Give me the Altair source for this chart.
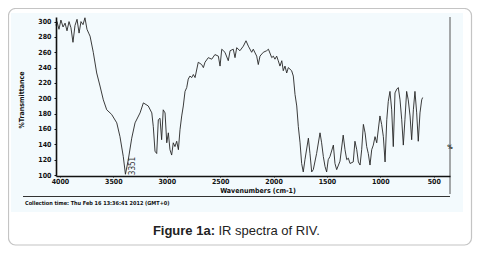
import altair as alt
import pandas as pd

wavenumber = [4037, 4028, 4009, 3991, 3971, 3952, 3934, 3915, 3897, 3878,
              3859, 3840, 3821, 3803, 3784, 3766, 3747, 3728, 3718, 3688,
              3656, 3625, 3594, 3562, 3516, 3468, 3438, 3407, 3387, 3360,
              3328, 3297, 3250, 3219, 3173, 3140, 3126, 3110, 3094, 3079,
              3063, 3048, 3033, 3016, 3000, 2985, 2970, 2954, 2939, 2923,
              2907, 2891, 2876, 2860, 2845, 2829, 2813, 2799, 2783, 2766,
              2751, 2735, 2705, 2673, 2657, 2642, 2611, 2579, 2549, 2517,
              2501, 2485, 2455, 2424, 2407, 2377, 2361, 2345, 2315, 2283,
              2258, 2236, 2205, 2190, 2158, 2143, 2127, 2096, 2065, 2048,
              2017, 2002, 1987, 1971, 1956, 1940, 1923, 1909, 1893, 1877,
              1862, 1831, 1815, 1799, 1783, 1768, 1752, 1737, 1722, 1706,
              1674, 1659, 1643, 1628, 1597, 1565, 1550, 1534, 1518, 1503,
              1488, 1472, 1440, 1425, 1409, 1378, 1348, 1331, 1315, 1300,
              1284, 1254, 1238, 1221, 1206, 1190, 1175, 1159, 1143, 1128,
              1113, 1097, 1081, 1066, 1050, 1034, 1004, 988, 972, 956,
              940, 926, 910, 894, 879, 863, 846, 832, 816, 800,
              785, 770, 754, 739, 722, 707, 691, 676, 660, 645,
              629, 613, 604]

transmittance = [295, 300, 290, 302, 293, 298, 288, 300, 292, 273,
                 295, 303, 285, 300, 296, 305, 290, 284, 281, 260,
                 233, 216, 198, 185, 179, 168, 150, 124, 101, 120,
                 148, 168, 181, 194, 190, 181, 163, 131, 128, 172,
                 174, 146, 185, 181, 142, 155, 133, 126, 142, 137,
                 144, 133, 159, 177, 190, 209, 214, 225, 229, 227,
                 231, 227, 247, 244, 240, 247, 253, 251, 257, 255,
                 242, 264, 260, 249, 262, 264, 253, 266, 262, 268,
                 275, 268, 260, 264, 255, 244, 255, 260, 262, 264,
                 253, 255, 251, 255, 249, 242, 249, 236, 242, 233,
                 240, 236, 229, 205, 190, 163, 142, 115, 104, 120,
                 148, 128, 104, 107, 128, 155, 142, 124, 111, 104,
                 120, 124, 139, 115, 107, 118, 152, 133, 120, 122,
                 115, 117, 144, 133, 117, 113, 133, 166, 155, 137,
                 128, 113, 133, 139, 150, 142, 177, 166, 150, 117,
                 172, 196, 209, 185, 137, 207, 212, 214, 198, 172,
                 139, 172, 209, 198, 177, 146, 185, 209, 181, 144,
                 181, 198, 201]

x_ticks = [4000, 3500, 3000, 2500, 2000, 1500, 1000, 500]
y_ticks = [100, 120, 140, 160, 180, 200, 220, 240, 260, 280, 300]
x_domain = [4037, 348]
y_domain = [98.7, 306]

peak_label = "3351"
x_title = "Wavenumbers (cm-1)"
y_title = "%Transmittance"
footer = "Collection time: Thu Feb 16 13:36:41 2012 (GMT+0)"
caption_bold = "Figure 1a:"
caption_text = "IR spectra of RIV."

W, H = 394, 159
df = pd.DataFrame({"wn": wavenumber, "t": transmittance})
one = pd.DataFrame({"k": [0]})

frame = alt.Chart(one).mark_rect(
    fill="white", stroke="#c4c4c4", strokeWidth=1.2, cornerRadius=7
).encode(x=alt.value(-47.5), x2=alt.value(415.5), y=alt.value(-8.5), y2=alt.value(228))

scan = alt.Chart(one).mark_rect(fill="#f3fafd").encode(
    x=alt.value(-45), x2=alt.value(407), y=alt.value(-4), y2=alt.value(195)
)

label_font = "DejaVu Sans Condensed, Liberation Sans, sans-serif"

axis_style = dict(title=None, grid=False, format="d", zindex=1,
                  domainColor="#111", domainWidth=1.6, tickColor="#111",
                  labelFont=label_font, labelFontSize=7, labelFontWeight="bold",
                  labelColor="#111")

line = alt.Chart(df).mark_line(color="#262626", strokeWidth=0.9).encode(
    x=alt.X("wn:Q",
            scale=alt.Scale(domain=x_domain, nice=False, zero=False),
            axis=alt.Axis(values=x_ticks, tickSize=1, labelPadding=0, **axis_style)),
    y=alt.Y("t:Q",
            scale=alt.Scale(domain=y_domain, nice=False, zero=False),
            axis=alt.Axis(values=y_ticks, tickSize=2, labelPadding=3, **axis_style)),
)

right_rule = alt.Chart(one).mark_rule(color="#555", strokeWidth=1).encode(
    x=alt.value(394), y=alt.value(0), y2=alt.value(177)
)
sep_rule = alt.Chart(one).mark_rule(color="#333", strokeWidth=1).encode(
    x=alt.value(-33), x2=alt.value(394), y=alt.value(179.5)
)

def txt(text, x, y, size, weight="normal", align="center", angle=0,
        font=label_font, color="#111", baseline="middle"):
    return alt.Chart(one).mark_text(
        text=text, fontSize=size, fontWeight=weight, align=align, angle=angle,
        font=font, color=color, baseline=baseline
    ).encode(x=alt.value(x), y=alt.value(y))

texts = [
    txt(x_title, 202, 173.5, 7, "bold"),
    txt(y_title, -34, 83, 7, "bold", angle=270),
    txt(footer, -31, 185.5, 5.5, "bold", align="left"),
    txt(peak_label, 77, 149, 8, "normal", angle=270, color="#333"),
    txt("%", 394, 130, 6, "bold"),
    txt(caption_bold, 159, 214, 13, "bold", align="right", font="Liberation Sans", color="#222"),
    txt(caption_text, 162.5, 214, 13, "normal", align="left", font="Liberation Sans", color="#222"),
]

chart = alt.layer(frame, scan, line, right_rule, sep_rule, *texts).properties(
    width=W, height=H,
    autosize=alt.AutoSizeParams(type="none"),
    padding={"left": 48, "top": 9, "right": 23, "bottom": 70},
    background="white",
).configure_view(strokeWidth=0)

chart.save("out.html", embed_options={"renderer": "svg", "actions": False})
